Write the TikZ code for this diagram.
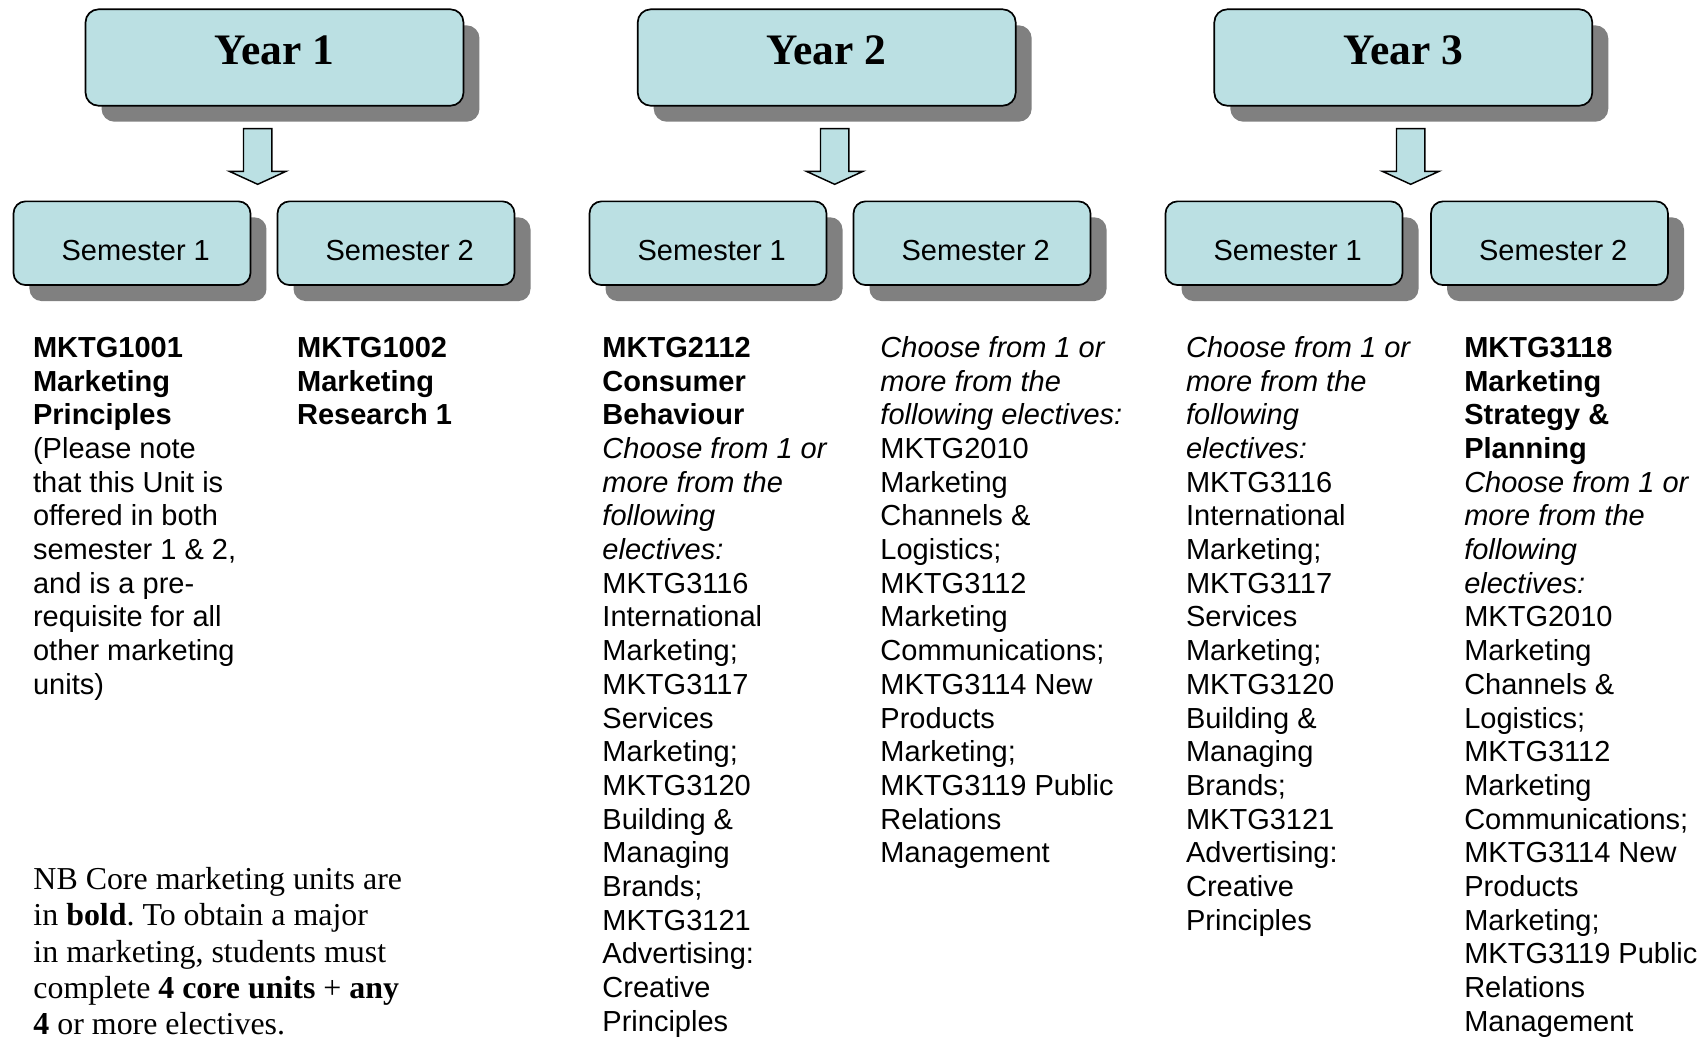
\documentclass[tikz,border=0pt]{standalone}
\usepackage{fontspec}
\setmainfont{Liberation Serif}
\newfontfamily\arialf{Liberation Sans}
\usetikzlibrary{shadows}
\definecolor{boxfill}{RGB}{187,224,227}
\definecolor{shadowgray}{RGB}{128,128,128}
\frenchspacing
\begin{document}
\frenchspacing
\begin{tikzpicture}[x=0.4138pt, y=-0.4138pt,
  boxshadow/.style={drop shadow={shadow xshift=6.62pt, shadow yshift=-6.62pt, fill=shadowgray, opacity=1}},
  yearbox/.style={draw=black, line width=0.7pt, fill=boxfill, rounded corners=5.4pt, boxshadow,
    minimum width=156.4pt, minimum height=39.9pt, inner sep=0pt,
    font=\fontsize{18pt}{21pt}\selectfont\bfseries, text height=12pt, text depth=6.6pt},
  sembox/.style={draw=black, line width=0.7pt, fill=boxfill, rounded corners=5pt, boxshadow,
    minimum width=98.07pt, minimum height=34.64pt, inner sep=0pt,
    font=\arialf\fontsize{12pt}{14pt}\selectfont, text height=14.5pt, text depth=0pt},
  blockarrow/.style={draw=black, line width=0.6pt, fill=boxfill, line join=miter},
  coltext/.style={anchor=north west, inner sep=0pt, align=left,
    font=\arialf\fontsize{12pt}{13.94pt}\selectfont},
  nbtext/.style={anchor=north west, inner sep=0pt, align=left,
    font=\fontsize{13.2pt}{15.02pt}\selectfont}
]
\path[fill=white, use as bounding box] (0,0) rectangle (1704,1039);

% Year boxes
\node[yearbox] (y1) at (274.5,57.5) {Year 1};
\node[yearbox] (y2) at (826.7,57.5) {Year 2};
\node[yearbox] (y3) at (1403.3,57.5) {Year 3};

% Semester boxes
\node[sembox] (s11) at (132,243.2) {\hspace*{3.1pt}Semester 1};
\node[sembox] (s12) at (396,243.2) {\hspace*{3.1pt}Semester 2};
\node[sembox] (s21) at (708,243.2) {\hspace*{3.1pt}Semester 1};
\node[sembox] (s22) at (972,243.2) {\hspace*{3.1pt}Semester 2};
\node[sembox] (s31) at (1284,243.2) {\hspace*{3.1pt}Semester 1};
\node[sembox] (s32) at (1549.5,243.2) {\hspace*{3.1pt}Semester 2};

% Block arrows (tip coordinates)
\coordinate (a1) at (257.7,184.3);
\coordinate (a2) at (834.7,184.3);
\coordinate (a3) at (1410.7,184.3);
\foreach \t in {a1,a2,a3}{
  \draw[blockarrow] (\t) -- ++(-28.35,-13) -- ++(14.15,0) -- ++(0,-42.6) -- ++(28.4,0)
    -- ++(0,42.6) -- ++(14.15,0) -- cycle;
}

% Column texts
\node[coltext] (c1) at (32.6,330.4) {\rule{0pt}{11pt}\textbf{MKTG1001}\\
\textbf{Marketing}\\
\textbf{Principles}\\
(Please note\\
that this Unit is\\
offered in both\\
semester 1 \& 2,\\
and is a pre-\\
requisite for all\\
other marketing\\
units)};

\node[coltext] (c2) at (296.7,330.4) {\rule{0pt}{11pt}\textbf{MKTG1002}\\
\textbf{Marketing}\\
\textbf{Research 1}};

\node[coltext] (c3) at (602,330.4) {\rule{0pt}{11pt}\textbf{MKTG2112}\\
\textbf{Consumer}\\
\textbf{Behaviour}\\
\textit{Choose from 1 or}\\
\textit{more from the}\\
\textit{following}\\
\textit{electives:}\\
MKTG3116\\
International\\
Marketing;\\
MKTG3117\\
Services\\
Marketing;\\
MKTG3120\\
Building \&\\
Managing\\
Brands;\\
MKTG3121\\
Advertising:\\
Creative\\
Principles};

\node[coltext] (c4) at (880,330.4) {\rule{0pt}{11pt}\textit{Choose from 1 or}\\
\textit{more from the}\\
\textit{following electives:}\\
MKTG2010\\
Marketing\\
Channels \&\\
Logistics;\\
MKTG3112\\
Marketing\\
Communications;\\
MKTG3114 New\\
Products\\
Marketing;\\
MKTG3119 Public\\
Relations\\
Management};

\node[coltext] (c5) at (1185.6,330.4) {\rule{0pt}{11pt}\textit{Choose from 1 or}\\
\textit{more from the}\\
\textit{following}\\
\textit{electives:}\\
MKTG3116\\
International\\
Marketing;\\
MKTG3117\\
Services\\
Marketing;\\
MKTG3120\\
Building \&\\
Managing\\
Brands;\\
MKTG3121\\
Advertising:\\
Creative\\
Principles};

\node[coltext] (c6) at (1463.8,330.4) {\rule{0pt}{11pt}\textbf{MKTG3118}\\
\textbf{Marketing}\\
\textbf{Strategy \&}\\
\textbf{Planning}\\
\textit{Choose from 1 or}\\
\textit{more from the}\\
\textit{following}\\
\textit{electives:}\\
MKTG2010\\
Marketing\\
Channels \&\\
Logistics;\\
MKTG3112\\
Marketing\\
Communications;\\
MKTG3114 New\\
Products\\
Marketing;\\
MKTG3119 Public\\
Relations\\
Management};

% Note
\node[nbtext] (nb) at (33,860) {\rule{0pt}{12pt}NB Core marketing units are\\
in \textbf{bold}. To obtain a major\\
in marketing, students must\\
complete \textbf{4 core units} + \textbf{any}\\
\textbf{4} or more electives.};
\end{tikzpicture}
\end{document}
